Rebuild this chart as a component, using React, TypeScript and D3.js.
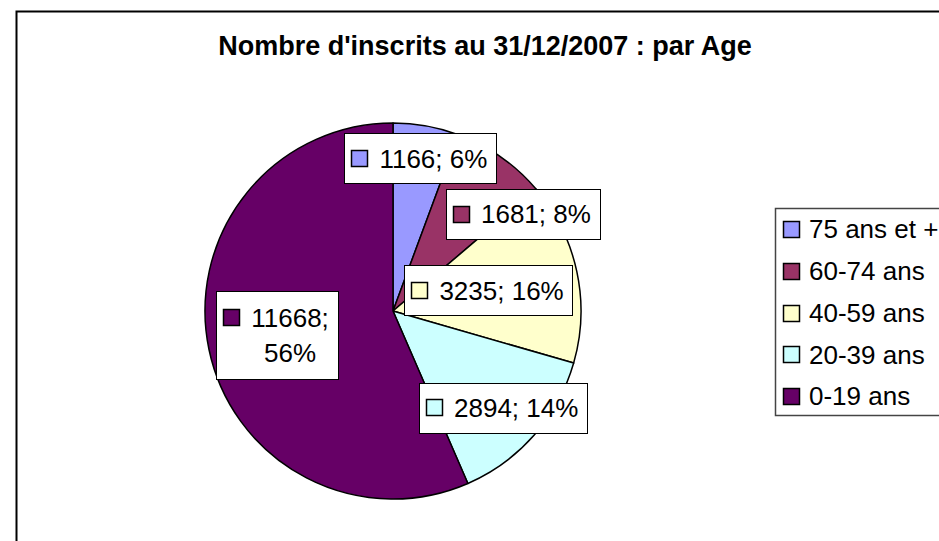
import React, { useEffect, useRef } from 'react';
import * as d3 from 'd3';

const categories = ['75 ans et +', '60-74 ans', '40-59 ans', '20-39 ans', '0-19 ans'];
const values = [1166, 1681, 3235, 2894, 11668];
const percentLabels = ['6%', '8%', '16%', '14%', '56%'];
const colors = ['#9999FF', '#993366', '#FFFFCC', '#CCFFFF', '#660066'];
const title = "Nombre d'inscrits au 31/12/2007 : par Age";
// label placement: fraction of radius, angle shift (deg), wrapped onto two lines
const labelRadius = [0.825, 0.862, 0.52, 0.78, 0.63];
const labelAngleShift = [0, 18.3, 0, 0, 0];
const labelWrap = [false, false, false, false, true];

const W = 939;
const H = 541;
const FONT = "Arial, 'Liberation Sans', sans-serif";
const FS = 26;

export default function App() {
  const ref = useRef<SVGSVGElement>(null);

  useEffect(() => {
    const svg = d3.select(ref.current);
    svg.selectAll('*').remove();

    // chart area border
    svg.append('rect')
      .attr('x', 16.5).attr('y', 11.5)
      .attr('width', W + 50).attr('height', H + 50)
      .attr('fill', '#fff').attr('stroke', '#000').attr('stroke-width', 2);

    svg.append('text')
      .attr('x', 485).attr('y', 55)
      .attr('text-anchor', 'middle')
      .attr('font-family', FONT).attr('font-weight', 'bold').attr('font-size', 27)
      .attr('fill', '#000')
      .text(title);

    const cx = 393, cy = 311, r = 188;
    const pie = d3.pie<number>().sort(null).value((d) => d);
    const arcs = pie(values);
    const arc = d3.arc<d3.PieArcDatum<number>>().innerRadius(0).outerRadius(r);

    const g = svg.append('g').attr('transform', `translate(${cx},${cy})`);
    g.selectAll('path.slice')
      .data(arcs)
      .join('path')
      .attr('class', 'slice')
      .attr('d', arc as any)
      .attr('fill', (_d, i) => colors[i])
      .attr('stroke', '#000')
      .attr('stroke-width', 1.5)
      .attr('stroke-linejoin', 'round');

    // data labels
    arcs.forEach((a, i) => {
      const mid = (a.startAngle + a.endAngle) / 2 + (labelAngleShift[i] * Math.PI) / 180;
      const dist = labelRadius[i] * r;
      const px = cx + Math.sin(mid) * dist;
      const py = cy - Math.cos(mid) * dist;
      const full = `${values[i]}; ${percentLabels[i]}`;
      const lines = labelWrap[i] ? [`${values[i]};`, percentLabels[i]] : [full];
      const lg = svg.append('g');
      const rect = lg.append('rect').attr('fill', '#fff').attr('stroke', '#000').attr('stroke-width', 1);
      const texts = lines.map((l) =>
        lg.append('text')
          .attr('font-family', FONT).attr('font-size', FS).attr('fill', '#000')
          .attr('text-anchor', 'middle')
          .text(l)
      );
      const widths = texts.map((t) => (t.node() as SVGTextElement).getComputedTextLength());
      const maxW = Math.max(...widths);
      const bw = 7 + 17 + 11 + maxW + 9;
      const lineGap = 35;
      const bh = lines.length === 1 ? 50 : 88;
      const left = px - bw / 2;
      const top = py - bh / 2;
      rect.attr('x', Math.round(left) + 0.5).attr('y', Math.round(top) + 0.5)
        .attr('width', Math.round(bw)).attr('height', Math.round(bh));
      const textCx = left + 35 + maxW / 2;
      const firstCap = py - ((lines.length - 1) * lineGap) / 2;
      texts.forEach((t, k) => {
        t.attr('x', textCx).attr('y', firstCap + k * lineGap + FS * 0.358);
      });
      lg.append('rect')
        .attr('x', Math.round(left + 7) + 0.5)
        .attr('y', Math.round(firstCap - 8.5) + 0.5)
        .attr('width', 16).attr('height', 16)
        .attr('fill', colors[i]).attr('stroke', '#000').attr('stroke-width', 1.5);
    });

    // legend
    const legTop = 208, legLeft = 775;
    svg.append('rect')
      .attr('x', legLeft + 0.5).attr('y', legTop + 0.5)
      .attr('width', 250).attr('height', 207)
      .attr('fill', '#fff').attr('stroke', '#444').attr('stroke-width', 1.5);
    const ly = d3.scalePoint<string>().domain(categories).range([229, 396]);
    categories.forEach((c, i) => {
      const y = ly(c) as number;
      svg.append('rect')
        .attr('x', 783.5).attr('y', Math.round(y - 8) + 0.5)
        .attr('width', 16).attr('height', 16)
        .attr('fill', colors[i]).attr('stroke', '#000').attr('stroke-width', 1.5);
      svg.append('text')
        .attr('x', 809).attr('y', y + FS * 0.358)
        .attr('font-family', FONT).attr('font-size', FS).attr('fill', '#000')
        .text(c);
    });
  }, []);

  return (
    <svg
      ref={ref}
      width={W}
      height={H}
      style={{ position: 'absolute', left: 0, top: 0, background: '#fff' }}
    />
  );
}
